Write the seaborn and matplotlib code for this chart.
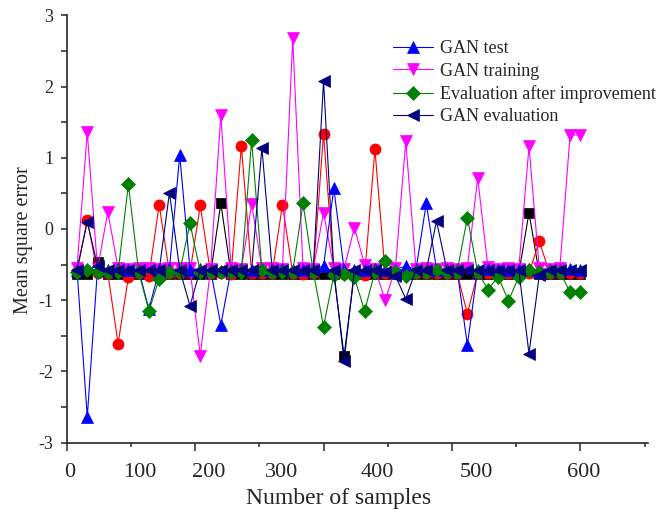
import matplotlib
matplotlib.use("Agg")
import matplotlib.pyplot as plt
import seaborn as sns

# sample positions (50 samples)
samples = [12, 24, 36, 48, 60, 72, 84, 96, 108, 120,
           132, 144, 156, 168, 180, 192, 204, 216, 228, 240,
           252, 264, 276, 288, 300, 312, 324, 336, 348, 360,
           372, 384, 396, 408, 420, 432, 444, 456, 468, 480,
           492, 504, 516, 528, 540, 552, 564, 576, 588, 600]

gan_test = [-0.57, -2.64, -0.55, -0.57, -0.56, -0.58, -0.57, -1.13, -0.57, -0.56,
            1.04, -0.57, -0.56, -0.57, -1.35, -0.57, -0.56, -0.57, -0.58, -0.57,
            -0.56, -0.57, -0.57, -0.56, -0.52, 0.57, -0.57, -0.58, -0.57, -0.56,
            -0.57, -0.57, -0.52, -0.57, 0.36, -0.57, -0.58, -0.57, -1.63, -0.57,
            -0.56, -0.57, -0.58, -0.57, -0.56, -0.60, -0.57, -0.58, -0.56, -0.57]

gan_training = [-0.55, 1.36, -0.56, 0.24, -0.55, -0.56, -0.55, -0.55, -0.56, -0.55,
                -0.55, -0.55, -1.78, -0.56, 1.60, -0.55, -0.56, 0.35, -0.55, -0.55,
                -0.56, 2.68, -0.55, -0.56, 0.23, -0.55, -0.56, 0.02, -0.50, -0.56,
                -1.00, -0.55, 1.23, -0.56, -0.55, -0.56, -0.55, -0.56, -0.55, 0.72,
                -0.53, -0.56, -0.55, -0.56, 1.16, -0.55, -0.56, -0.55, 1.32, 1.32]

eval_improved = [-0.60, -0.58, -0.60, -0.60, -0.61, 0.63, -0.60, -1.15, -0.70, -0.60,
                 -0.60, 0.08, -0.60, -0.61, -0.60, -0.60, -0.60, 1.25, -0.58, -0.60,
                 -0.61, -0.60, 0.36, -0.60, -1.37, -0.65, -0.63, -0.68, -1.15, -0.60,
                 -0.45, -0.60, -0.66, -0.60, -0.60, -0.58, -0.60, -0.60, 0.16, -0.60,
                 -0.85, -0.67, -1.01, -0.67, -0.58, -0.60, -0.61, -0.60, -0.89, -0.89]

gan_evaluation = [-0.57, 0.10, -0.52, -0.57, -0.57, -0.58, -0.57, -0.57, -0.58, 0.51,
                  -0.57, -1.08, -0.57, -0.58, -0.57, -0.57, -0.58, -0.57, 1.14, -0.57,
                  -0.58, -0.57, -0.57, -0.57, 2.08, -0.58, -1.86, -0.57, -0.58, -0.57,
                  -0.60, -0.66, -0.98, -0.57, -0.58, 0.11, -0.57, -0.58, -0.57, -0.57,
                  -0.58, -0.57, -0.57, -0.57, -1.75, -0.65, -0.58, -0.57, -0.57, -0.57]

red_series = [-0.60, 0.13, -0.62, -0.62, -1.61, -0.68, -0.62, -0.66, 0.34, -0.62,
              -0.62, -0.61, 0.33, -0.62, -0.62, -0.63, 1.17, -0.62, -0.62, -0.62,
              0.34, -0.62, -0.63, -0.62, 1.34, -0.62, -0.63, -0.62, -0.65, 1.12,
              -0.62, -0.62, -0.62, -0.62, -0.62, -0.62, -0.62, -0.62, -1.19, -0.62,
              -0.62, -0.62, -0.62, -0.62, -0.62, -0.17, -0.62, -0.62, -0.62, -0.62]

black_series = [-0.63, -0.63, -0.47, -0.63, -0.63, -0.63, -0.63, -0.63, -0.63, -0.63,
                -0.63, -0.63, -0.63, -0.63, 0.36, -0.63, -0.63, -0.63, -0.63, -0.63,
                -0.63, -0.63, -0.63, -0.63, -0.63, -0.63, -1.78, -0.63, -0.63, -0.63,
                -0.63, -0.63, -0.63, -0.63, -0.63, -0.63, -0.63, -0.63, -0.63, -0.63,
                -0.63, -0.63, -0.63, -0.63, 0.23, -0.63, -0.63, -0.63, -0.63, -0.63]

# tick labels as they sit in the original figure
xlabel_pos = [3, 85, 166, 251, 363, 478, 604]
xlabel_txt = ["0", "100", "200", "300", "400", "500", "600"]

sns.set_style("ticks")
plt.rcParams["font.family"] = ["Liberation Serif", "DejaVu Serif"]
plt.rcParams["axes.unicode_minus"] = False

fig = plt.figure(figsize=(6.58, 5.15), dpi=100)
ax = fig.add_axes([0.1014, 0.1406, 0.8834, 0.8295])

# (values, colour, marker, size, legend label)
series = [
    (black_series, "#000000", "s", 6.5, None),
    (red_series, "#FF0000", "o", 8, None),
    (gan_training, "#FF00FF", "v", 9, "GAN training"),
    (gan_test, "#0000FF", "^", 9, "GAN test"),
    (eval_improved, "#008000", "D", 7.3, "Evaluation after improvement"),
    (gan_evaluation, "#000080", "<", 9, "GAN evaluation"),
]

for vals, col, mk, ms, lab in series:
    kw = dict(label=lab) if lab else {}
    sns.lineplot(x=samples, y=vals, ax=ax, color=col, marker=mk, markersize=ms,
                 markeredgecolor=col, markeredgewidth=0.5, linewidth=0.8, **kw)

ax.set_xlim(0, 679)
ax.set_ylim(-3, 3)
ax.set_yticks([-3, -2, -1, 0, 1, 2, 3])
ax.set_yticks([-2.5, -1.5, -0.5, 0.5, 1.5, 2.5], minor=True)
ax.set_xticks([0, 150, 300, 450, 600])
ax.set_xticks([75, 225, 375, 525, 675], minor=True)
ax.tick_params(axis="x", which="major", length=5.5, width=1.1, labelbottom=False)
ax.tick_params(axis="x", which="minor", length=2.8, width=1.1)
ax.tick_params(axis="y", which="both", length=4.5, width=1.1, labelsize=13, pad=5)

sec = ax.secondary_xaxis("bottom")
sec.set_xticks(xlabel_pos, labels=xlabel_txt)
sec.tick_params(length=0, labelsize=16, pad=15)
sec.spines["bottom"].set_visible(False)

for s in ["top", "right"]:
    ax.spines[s].set_visible(False)
for s in ["left", "bottom"]:
    ax.spines[s].set_linewidth(1.2)

ax.set_xlabel("Number of samples", fontsize=17)
ax.xaxis.set_label_coords(0.467, -0.106)
ax.set_ylabel("Mean square error", fontsize=14.5)
ax.yaxis.set_label_coords(-0.058, 0.474)

h, l = ax.get_legend_handles_labels()
order = ["GAN test", "GAN training", "Evaluation after improvement", "GAN evaluation"]
hh = [h[l.index(o)] for o in order]
ax.legend(hh, order, loc="upper left", bbox_to_anchor=(0.561, 0.942), frameon=False,
          fontsize=13, borderpad=0, labelspacing=0.3, handlelength=2.2,
          handletextpad=0.4, borderaxespad=0)

plt.savefig("out.png", dpi=100)
